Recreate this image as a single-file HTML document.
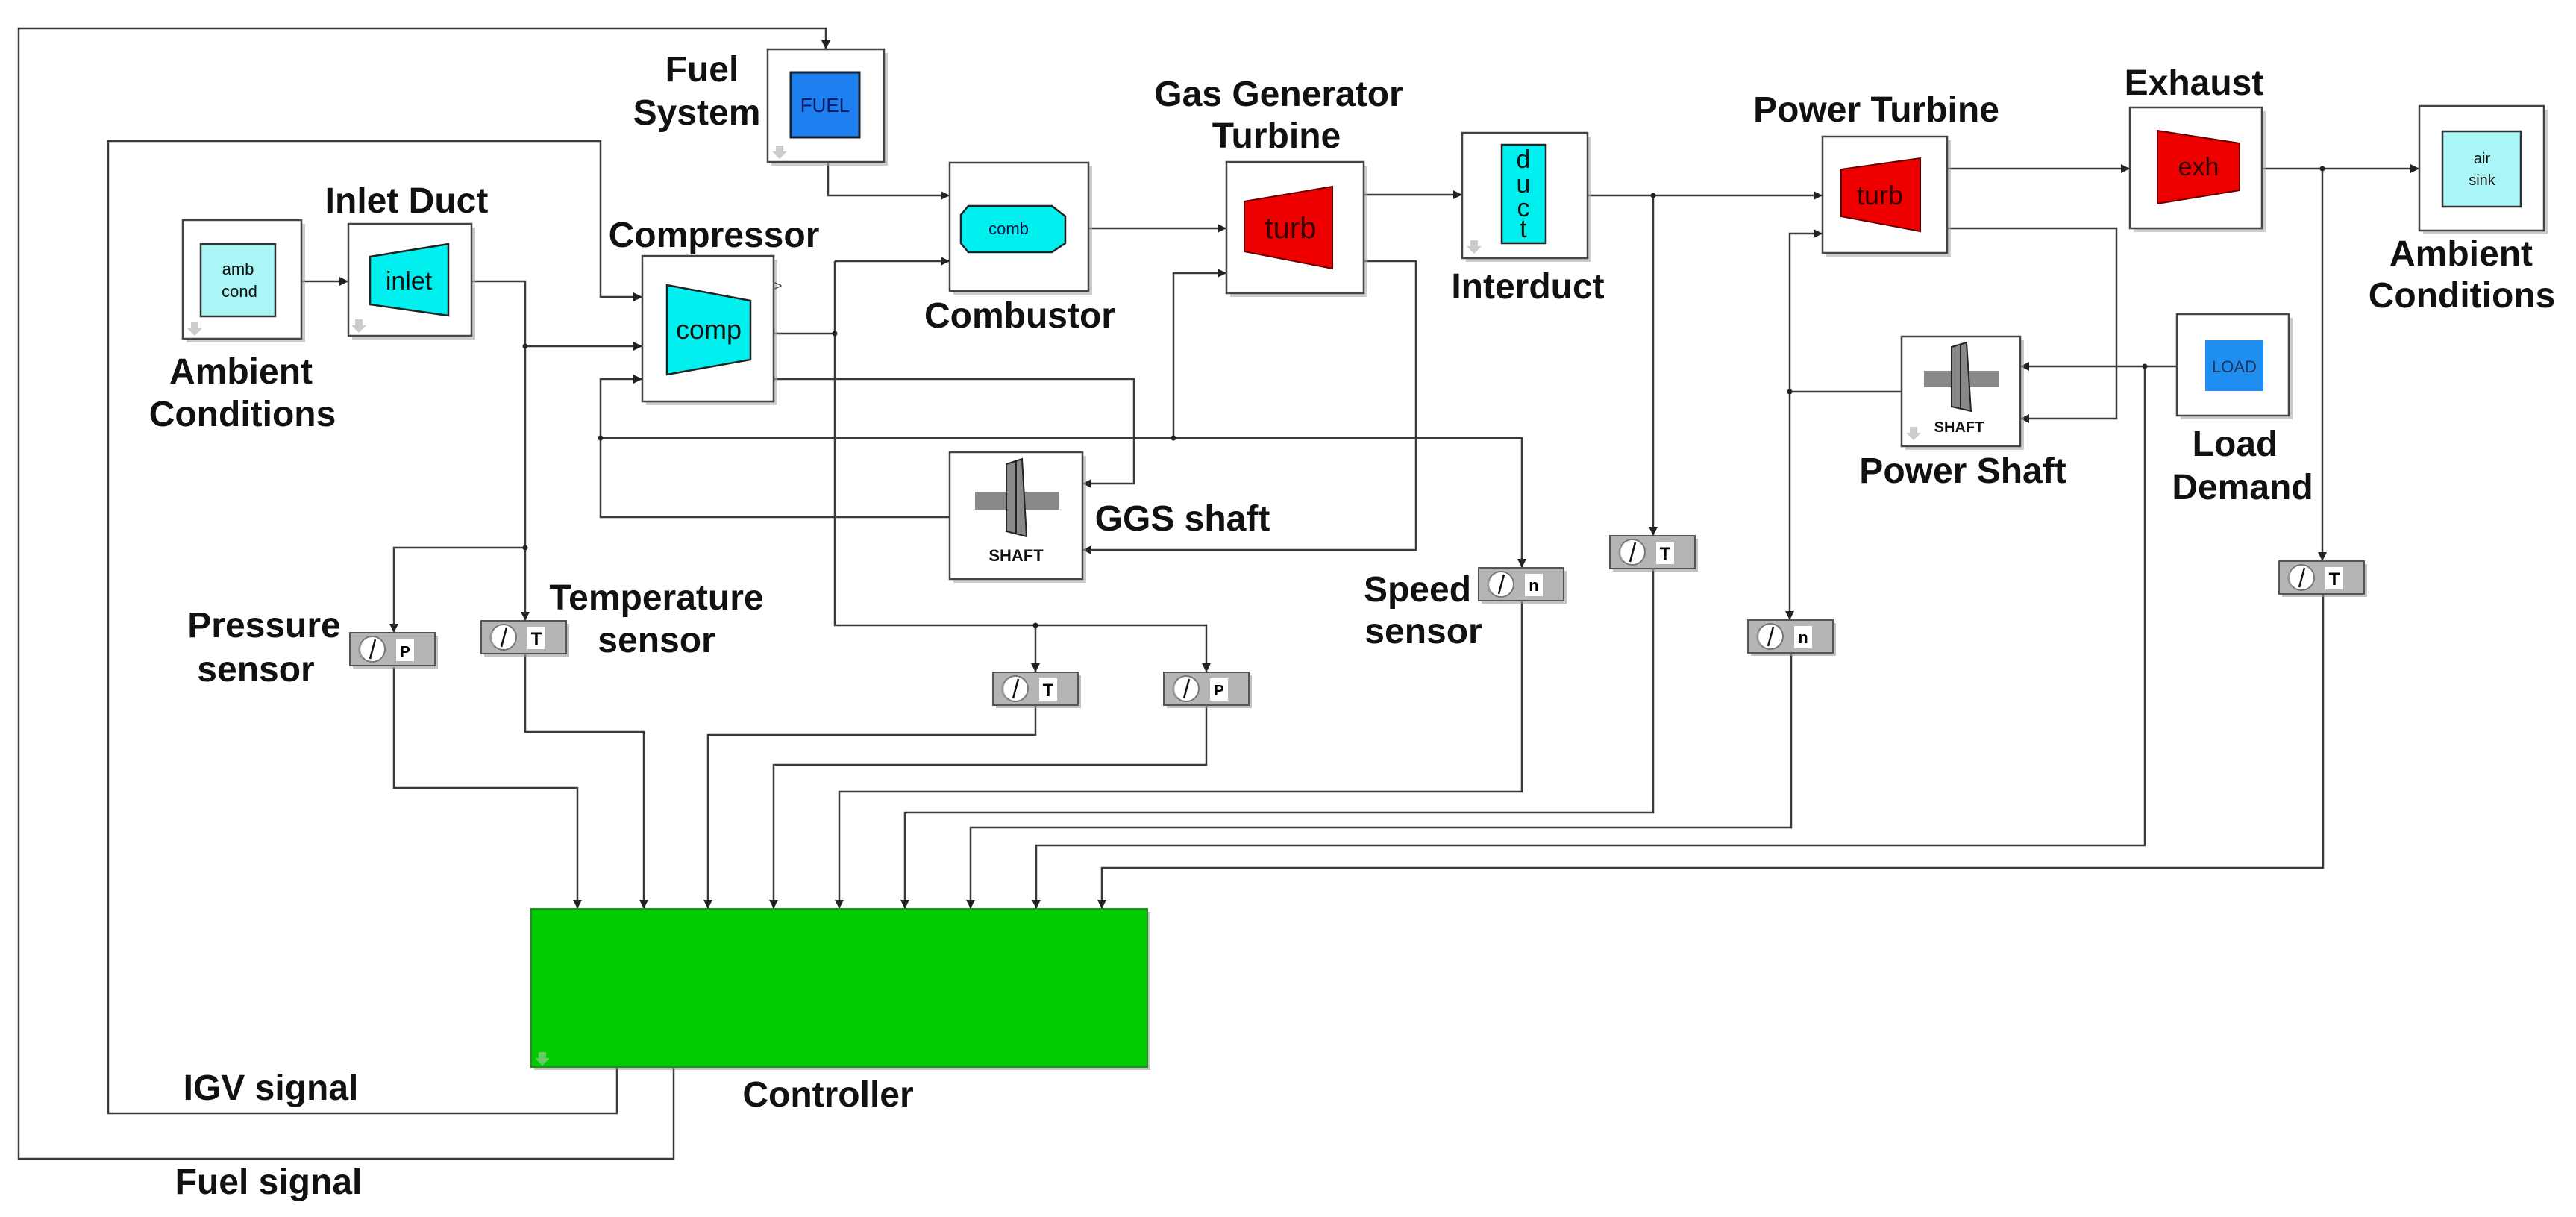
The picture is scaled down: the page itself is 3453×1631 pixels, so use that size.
<!DOCTYPE html>
<html><head><meta charset="utf-8"><style>
html,body{margin:0;padding:0;background:#fff;}
svg{display:block;}
.l{fill:#111;font-family:"Liberation Sans",Arial,sans-serif;font-weight:bold;font-size:48px;text-anchor:middle;}
.s{font-family:"Liberation Sans",Arial,sans-serif;text-anchor:middle;}
</style></head><body>
<svg width="3453" height="1631" viewBox="0 0 3453 1631" xmlns="http://www.w3.org/2000/svg">
<defs>
<marker id="a" viewBox="0 0 10 10" refX="10" refY="5" markerWidth="12" markerHeight="12" markerUnits="userSpaceOnUse" orient="auto"><path d="M0,0 L10,5 L0,10 z" fill="#222"/></marker>
<g id="sens">
<rect x="4" y="4" width="114" height="44" fill="#999" opacity="0.6"/>
<rect x="0" y="0" width="114" height="44" fill="#b5b5b5" stroke="#555" stroke-width="2"/>
<circle cx="30" cy="22" r="17" fill="#fff" stroke="#777" stroke-width="2"/>
<path d="M17,34 A17,17 0 0 1 15,14" fill="none" stroke="#999" stroke-width="3"/>
<line x1="27" y1="35" x2="34" y2="9" stroke="#111" stroke-width="2.5"/>
<rect x="62" y="8" width="24" height="30" fill="#fff"/>
</g>
<g id="arr"><path d="M-5,0 h10 v8 h5 l-10,10 l-10,-10 h5 z" fill="#ccc"/></g>
</defs>

<g fill="none" stroke="#3a3a3a" stroke-width="2.5">
<path d="M903,1430 V1553 H25 V38 H1107 V66" marker-end="url(#a)"/>
<path d="M827,1430 V1492 H145 V189 H805 V398 H861" marker-end="url(#a)"/>
<path d="M1110,217 V262 H1273" marker-end="url(#a)"/>
<path d="M404,377 H467" marker-end="url(#a)"/>
<path d="M632,377 H704 V832" marker-end="url(#a)"/>
<path d="M704,464 H861" marker-end="url(#a)"/>
<path d="M704,734 H528 V848" marker-end="url(#a)"/>
<path d="M1037,447 H1119"/>
<path d="M1119,350 H1273" marker-end="url(#a)"/>
<path d="M1119,350 V838 H1617 V901" marker-end="url(#a)"/>
<path d="M1388,838 V901" marker-end="url(#a)"/>
<path d="M1037,508 H1520 V648 H1451" marker-end="url(#a)"/>
<path d="M1273,693 H805 V508 H861" marker-end="url(#a)"/>
<path d="M805,587 H2040 V761" marker-end="url(#a)"/>
<path d="M1573,587 V366 H1644" marker-end="url(#a)"/>
<path d="M1459,306 H1644" marker-end="url(#a)"/>
<path d="M1828,261 H1960" marker-end="url(#a)"/>
<path d="M1828,350 H1898 V737 H1451" marker-end="url(#a)"/>
<path d="M2128,262 H2443" marker-end="url(#a)"/>
<path d="M2216,262 V718" marker-end="url(#a)"/>
<path d="M2610,226 H2855" marker-end="url(#a)"/>
<path d="M2610,306 H2837 V561 H2708" marker-end="url(#a)"/>
<path d="M2549,525 H2399"/>
<path d="M2399,525 V313 H2443" marker-end="url(#a)"/>
<path d="M2399,525 V831" marker-end="url(#a)"/>
<path d="M2918,491 H2708" marker-end="url(#a)"/>
<path d="M2875,491 V1133 H1389 V1218" marker-end="url(#a)"/>
<path d="M3032,226 H3243" marker-end="url(#a)"/>
<path d="M3113,226 V752" marker-end="url(#a)"/>
<path d="M528,894 V1056 H774 V1218" marker-end="url(#a)"/>
<path d="M704,877 V981 H863 V1218" marker-end="url(#a)"/>
<path d="M1388,946 V985 H949 V1218" marker-end="url(#a)"/>
<path d="M1617,946 V1025 H1037 V1218" marker-end="url(#a)"/>
<path d="M2040,806 V1061 H1125 V1218" marker-end="url(#a)"/>
<path d="M2216,761 V1089 H1213 V1218" marker-end="url(#a)"/>
<path d="M2401,876 V1109 H1301 V1218" marker-end="url(#a)"/>
<path d="M3114,797 V1163 H1477 V1218" marker-end="url(#a)"/>
</g>
<g fill="#222">
<circle cx="704" cy="464" r="3.5"/><circle cx="704" cy="734" r="3.5"/><circle cx="1119" cy="447" r="3.5"/>
<circle cx="805" cy="587" r="3.5"/><circle cx="1573" cy="587" r="3.5"/><circle cx="1388" cy="838" r="3.5"/>
<circle cx="2216" cy="262" r="3.5"/><circle cx="2399" cy="525" r="3.5"/><circle cx="2875" cy="491" r="3.5"/><circle cx="3113" cy="226" r="3.5"/>
</g>

<!-- boxes with shadow -->
<g stroke="#444" stroke-width="2.5" fill="#fff">
<rect x="1034" y="71" width="156" height="151" fill="#aaa" stroke="none" opacity="0.6"/><rect x="1029" y="66" width="156" height="151"/>
<rect x="250" y="300" width="159" height="159" fill="#aaa" stroke="none" opacity="0.6"/><rect x="245" y="295" width="159" height="159"/>
<rect x="472" y="305" width="165" height="150" fill="#aaa" stroke="none" opacity="0.6"/><rect x="467" y="300" width="165" height="150"/>
<rect x="866" y="348" width="176" height="195" fill="#aaa" stroke="none" opacity="0.6"/><rect x="861" y="343" width="176" height="195"/>
<rect x="1278" y="223" width="186" height="172" fill="#aaa" stroke="none" opacity="0.6"/><rect x="1273" y="218" width="186" height="172"/>
<rect x="1649" y="222" width="184" height="176" fill="#aaa" stroke="none" opacity="0.6"/><rect x="1644" y="217" width="184" height="176"/>
<rect x="1965" y="183" width="168" height="168" fill="#aaa" stroke="none" opacity="0.6"/><rect x="1960" y="178" width="168" height="168"/>
<rect x="1278" y="611" width="178" height="170" fill="#aaa" stroke="none" opacity="0.6"/><rect x="1273" y="606" width="178" height="170"/>
<rect x="2448" y="188" width="167" height="156" fill="#aaa" stroke="none" opacity="0.6"/><rect x="2443" y="183" width="167" height="156"/>
<rect x="2860" y="149" width="177" height="162" fill="#aaa" stroke="none" opacity="0.6"/><rect x="2855" y="144" width="177" height="162"/>
<rect x="3248" y="147" width="167" height="167" fill="#aaa" stroke="none" opacity="0.6"/><rect x="3243" y="142" width="167" height="167"/>
<rect x="2554" y="456" width="159" height="147" fill="#aaa" stroke="none" opacity="0.6"/><rect x="2549" y="451" width="159" height="147"/>
<rect x="2923" y="426" width="150" height="136" fill="#aaa" stroke="none" opacity="0.6"/><rect x="2918" y="421" width="150" height="136"/>
</g>

<!-- controller -->
<rect x="716" y="1222" width="826" height="212" fill="#888" opacity="0.5"/>
<rect x="712" y="1218" width="826" height="212" fill="#00cc00" stroke="#2a8a2a" stroke-width="2"/>
<use href="#arr" x="727" y="1410" opacity="0.5"/>

<!-- fuel -->
<rect x="1060" y="97" width="92" height="87" fill="#1e7ff0" stroke="#123" stroke-width="3"/>
<text class="s" x="1106" y="150" font-size="26" fill="#0a1a60">FUEL</text>
<use href="#arr" x="1045" y="195"/>
<!-- ambient -->
<rect x="269" y="327" width="100" height="97" fill="#aaf5f5" stroke="#333" stroke-width="2.5"/>
<text class="s" x="319" y="368" font-size="22" fill="#111">amb</text>
<text class="s" x="321" y="398" font-size="22" fill="#111">cond</text>
<use href="#arr" x="261" y="432"/>
<!-- inlet -->
<polygon points="496,344 601,327 601,423 496,408" fill="#00f0f0" stroke="#222" stroke-width="2.5"/>
<text class="s" x="548" y="388" font-size="34" fill="#111">inlet</text>
<use href="#arr" x="481" y="428"/>
<!-- comp -->
<polygon points="894,382 1006,403 1006,482 894,502" fill="#00f0f0" stroke="#222" stroke-width="2.5"/>
<text class="s" x="950" y="454" font-size="36" fill="#111">comp</text>
<text class="s" x="1043" y="389" font-size="18" fill="#333">&gt;</text>
<!-- comb -->
<polygon points="1298,276 1410,276 1428,290 1428,326 1410,338 1298,338 1288,326 1288,288" fill="#00f0f0" stroke="#222" stroke-width="2.5"/>
<text class="s" x="1352" y="314" font-size="22" fill="#114">comb</text>
<!-- GGT -->
<polygon points="1668,270 1786,250 1786,360 1668,337" fill="#ee0000" stroke="#600" stroke-width="2"/>
<text class="s" x="1730" y="319" font-size="40" fill="#300">turb</text>
<!-- interduct -->
<rect x="2013" y="194" width="59" height="132" fill="#00f0f0" stroke="#222" stroke-width="2.5"/>
<text class="s" x="2042" y="225" font-size="34" fill="#111">d</text>
<text class="s" x="2042" y="258" font-size="34" fill="#111">u</text>
<text class="s" x="2042" y="290" font-size="34" fill="#111">c</text>
<text class="s" x="2042" y="318" font-size="34" fill="#111">t</text>
<use href="#arr" x="1976" y="322"/>
<!-- GGS shaft -->
<rect x="1307" y="659" width="113" height="24" fill="#888"/>
<polygon points="1349,622 1370,615 1376,719 1349,712" fill="#888" stroke="#222" stroke-width="2"/>
<line x1="1362" y1="618" x2="1362" y2="716" stroke="#222" stroke-width="2"/>
<text class="s" x="1362" y="752" font-size="22" font-weight="bold" fill="#111">SHAFT</text>
<!-- PT -->
<polygon points="2468,227 2574,212 2574,310 2468,290" fill="#ee0000" stroke="#600" stroke-width="2"/>
<text class="s" x="2520" y="274" font-size="36" fill="#300">turb</text>
<!-- exhaust -->
<polygon points="2892,175 3002,192 3002,255 2892,273" fill="#ee0000" stroke="#600" stroke-width="2"/>
<text class="s" x="2947" y="235" font-size="34" fill="#300">exh</text>
<!-- air sink -->
<rect x="3274" y="176" width="105" height="101" fill="#aaf5f5" stroke="#333" stroke-width="2.5"/>
<text class="s" x="3327" y="219" font-size="20" fill="#111">air</text>
<text class="s" x="3327" y="248" font-size="20" fill="#111">sink</text>
<!-- power shaft -->
<rect x="2579" y="497" width="101" height="21" fill="#888"/>
<polygon points="2616,465 2636,459 2642,551 2616,545" fill="#888" stroke="#222" stroke-width="2"/>
<line x1="2628" y1="462" x2="2628" y2="548" stroke="#222" stroke-width="2"/>
<text class="s" x="2626" y="579" font-size="20" font-weight="bold" fill="#111">SHAFT</text>
<use href="#arr" x="2565" y="572"/>
<!-- load -->
<rect x="2956" y="456" width="78" height="68" fill="#1e8ff0"/>
<text class="s" x="2995" y="499" font-size="22" fill="#235">LOAD</text>

<!-- sensors -->
<use href="#sens" x="469" y="848"/><text class="s" x="543" y="880" font-size="20" font-weight="bold">P</text>
<use href="#sens" x="645" y="832"/><text class="s" x="719" y="864" font-size="24" font-weight="bold">T</text>
<use href="#sens" x="1331" y="901"/><text class="s" x="1405" y="933" font-size="24" font-weight="bold">T</text>
<use href="#sens" x="1560" y="901"/><text class="s" x="1634" y="932" font-size="20" font-weight="bold">P</text>
<use href="#sens" x="1982" y="761"/><text class="s" x="2056" y="792" font-size="22" font-weight="bold">n</text>
<use href="#sens" x="2158" y="718"/><text class="s" x="2232" y="750" font-size="24" font-weight="bold">T</text>
<use href="#sens" x="2343" y="831"/><text class="s" x="2417" y="862" font-size="22" font-weight="bold">n</text>
<use href="#sens" x="3055" y="752"/><text class="s" x="3129" y="784" font-size="24" font-weight="bold">T</text>

<!-- labels -->
<text class="l" x="941" y="109">Fuel</text>
<text class="l" x="934" y="167">System</text>
<text class="l" x="545" y="285">Inlet Duct</text>
<text class="l" x="957" y="331">Compressor</text>
<text class="l" x="323" y="514">Ambient</text>
<text class="l" x="325" y="571">Conditions</text>
<text class="l" x="1714" y="142">Gas Generator</text>
<text class="l" x="1711" y="198">Turbine</text>
<text class="l" x="1367" y="439">Combustor</text>
<text class="l" x="2048" y="400">Interduct</text>
<text class="l" x="1585" y="711">GGS shaft</text>
<text class="l" x="2515" y="163">Power Turbine</text>
<text class="l" x="2941" y="127">Exhaust</text>
<text class="l" x="3299" y="356">Ambient</text>
<text class="l" x="3300" y="412">Conditions</text>
<text class="l" x="2631" y="647">Power Shaft</text>
<text class="l" x="2996" y="611">Load</text>
<text class="l" x="3006" y="669">Demand</text>
<text class="l" x="354" y="854">Pressure</text>
<text class="l" x="343" y="913">sensor</text>
<text class="l" x="880" y="817">Temperature</text>
<text class="l" x="880" y="874">sensor</text>
<text class="l" x="1900" y="806">Speed</text>
<text class="l" x="1908" y="862">sensor</text>
<text class="l" x="363" y="1474">IGV signal</text>
<text class="l" x="360" y="1600">Fuel signal</text>
<text class="l" x="1110" y="1483">Controller</text>
</svg>
</body></html>
